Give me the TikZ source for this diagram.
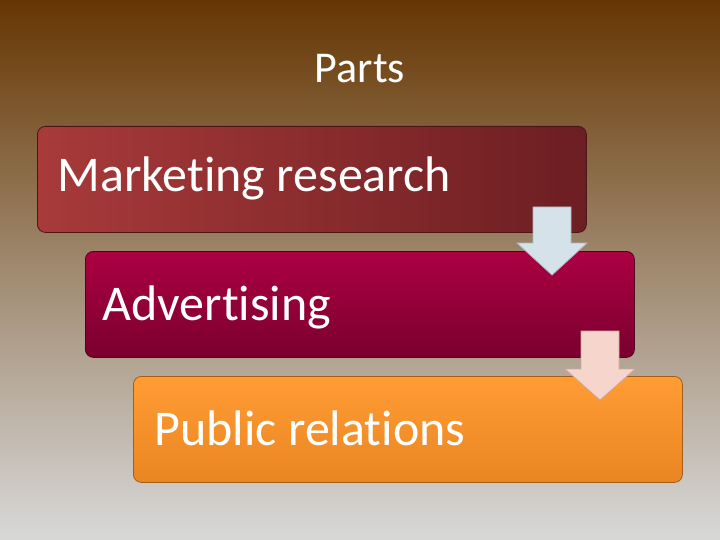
\documentclass[tikz,border=0pt]{standalone}
\usepackage{fontspec}
\setmainfont{Carlito}[Ligatures=NoCommon]
\usetikzlibrary{calc}
\definecolor{bgtop}{RGB}{102,54,2}
\definecolor{bgmid}{RGB}{160,138,112}
\definecolor{bgbot}{RGB}{216,216,216}
\definecolor{redL}{RGB}{168,58,58}
\definecolor{redR}{RGB}{108,30,34}
\definecolor{crimT}{RGB}{172,0,66}
\definecolor{crimB}{RGB}{122,0,46}
\definecolor{oraT}{RGB}{255,156,52}
\definecolor{oraB}{RGB}{234,134,34}
\definecolor{arrA}{RGB}{214,226,234}
\definecolor{arrAd}{RGB}{170,185,198}
\definecolor{arrB}{RGB}{246,214,204}
\definecolor{arrBd}{RGB}{205,170,160}
\tikzset{
  box/.style={rounded corners=8pt, draw=#1!70!black, line width=0.8pt, minimum width=549pt, minimum height=106pt, inner sep=0pt},
  boxtext/.style={anchor=base west, text=white, font=\fontsize{50}{54}\selectfont},
  blockarrow/.style={draw=#1, line width=0.8pt, line join=miter},
}
\begin{document}
\begin{tikzpicture}[x=1pt,y=-1pt]
\useasboundingbox (0,0) rectangle (720,540);
\shade[top color=bgtop, bottom color=bgbot, middle color=bgmid] (0,0) rectangle (720,540);
\node[text=white, font=\fontsize{44}{48}\selectfont, anchor=base] (title) at (360,83) {Parts};
% boxes
\node[box=redR, left color=redL, right color=redR, anchor=north west] (b1) at (37,126) {};
\node[boxtext] (t1) at (54,192) {Marketing research};
\node[box=crimB, top color=crimT, bottom color=crimB, anchor=north west] (b2) at (85,251) {};
\node[boxtext] (t2) at (99,320) {Advertising};
\node[box=oraB, top color=oraT, bottom color=oraB, anchor=north west] (b3) at (133,376) {};
\node[boxtext] (t3) at (151,445) {Public relations};
% arrows
\coordinate (a1) at (552,207);
\filldraw[blockarrow=arrAd, fill=arrA] ($(a1)+(-19,0)$) -- ($(a1)+(19,0)$) -- ($(a1)+(19,36)$) -- ($(a1)+(35,36)$) -- ($(a1)+(0,68)$) -- ($(a1)+(-35,36)$) -- ($(a1)+(-19,36)$) -- cycle;
\coordinate (a2) at (600,331);
\filldraw[blockarrow=arrBd, fill=arrB] ($(a2)+(-19,0)$) -- ($(a2)+(19,0)$) -- ($(a2)+(19,38)$) -- ($(a2)+(35,38)$) -- ($(a2)+(0,69)$) -- ($(a2)+(-35,38)$) -- ($(a2)+(-19,38)$) -- cycle;
\end{tikzpicture}
\end{document}
